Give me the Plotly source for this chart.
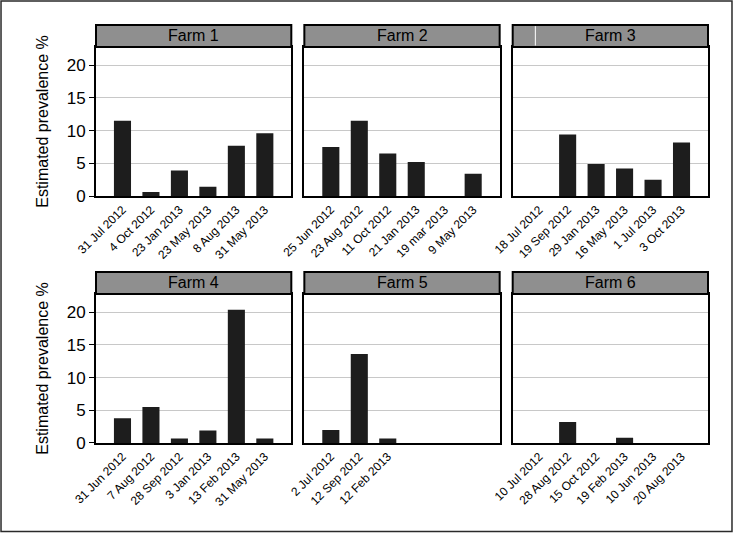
import plotly.graph_objs as go
from plotly.subplots import make_subplots

# sampling dates and estimated prevalence (%) for each farm
farm1_dates = ['31 Jul 2012', '4 Oct 2012', '23 Jan 2013', '23 May 2013', '8 Aug 2013', '31 May 2013']
farm1_vals = [11.5, 0.6, 3.9, 1.4, 7.7, 9.6]

farm2_dates = ['25 Jun 2012', '23 Aug 2012', '11 Oct 2012', '21 Jan 2013', '19 mar 2013', '9 May 2013']
farm2_vals = [7.5, 11.5, 6.5, 5.2, 0, 3.4]

farm3_dates = ['18 Jul 2012', '19 Sep 2012', '29 Jan 2013', '16 May 2013', '1 Jul 2013', '3 Oct 2013']
farm3_vals = [0, 9.4, 4.9, 4.2, 2.5, 8.2]

farm4_dates = ['31 Jun 2012', '7 Aug 2012', '28 Sep 2012', '3 Jan 2013', '13 Feb 2013', '31 May 2013']
farm4_vals = [3.8, 5.5, 0.7, 1.9, 20.4, 0.7]

farm5_dates = ['2 Jul 2012', '12 Sep 2012', '12 Feb 2013']
farm5_vals = [2.0, 13.6, 0.7]

farm6_dates = ['10 Jul 2012', '28 Aug 2012', '15 Oct 2012', '19 Feb 2013', '10 Jun 2013', '20 Aug 2013']
farm6_vals = [0, 3.2, 0, 0.8, 0, 0]

farm_names = ['Farm 1', 'Farm 2', 'Farm 3', 'Farm 4', 'Farm 5', 'Farm 6']
farms = [(farm1_dates, farm1_vals), (farm2_dates, farm2_vals), (farm3_dates, farm3_vals),
         (farm4_dates, farm4_vals), (farm5_dates, farm5_vals), (farm6_dates, farm6_vals)]

FONT = 'Liberation Sans, Arial, sans-serif'

fig = make_subplots(rows=2, cols=3, horizontal_spacing=0.0213, vertical_spacing=0.2474)

for i, (dates, vals) in enumerate(farms):
    r = i // 3 + 1
    c = i % 3 + 1
    pos = list(range(len(dates)))
    fig.add_trace(go.Bar(x=pos, y=vals, width=0.6,
                         marker=dict(color='#1d1d1d', line=dict(width=0)),
                         showlegend=False), row=r, col=c)
    fig.update_xaxes(tickvals=pos, ticktext=dates, tickangle=-45, range=[-0.93, 5.93],
                     showgrid=False, zeroline=False, showline=True, mirror=True,
                     linecolor='black', linewidth=2, ticks='', automargin=False,
                     tickfont=dict(size=12, color='black', family=FONT), row=r, col=c)
    fig.update_yaxes(range=[0, 22.8], tickvals=[0, 5, 10, 15, 20], showgrid=True,
                     gridcolor='#c8c8c8', gridwidth=1, zeroline=False, showline=True,
                     mirror=True, linecolor='black', linewidth=2, automargin=False,
                     ticks='outside' if c == 1 else '', ticklen=5, tickcolor='black',
                     showticklabels=(c == 1),
                     tickfont=dict(size=17, color='black', family=FONT), row=r, col=c)
    if c == 1:
        fig.update_yaxes(title=dict(text='Estimated prevalence %', standoff=14,
                                    font=dict(size=16, color='black', family=FONT)),
                         row=r, col=c)

    # grey strip with the farm name above each panel
    xr = 'x domain' if i == 0 else 'x%d domain' % (i + 1)
    yr = 'y domain' if i == 0 else 'y%d domain' % (i + 1)
    fig.add_shape(type='rect', xref=xr, yref=yr, x0=0, x1=1, y0=1, y1=1.148,
                  fillcolor='#8f8f8f', line=dict(color='black', width=2))
    fig.add_annotation(xref=xr, yref=yr, x=0.5, y=1.074, text=farm_names[i],
                       xanchor='center', yanchor='middle', showarrow=False,
                       font=dict(size=16, color='black', family=FONT))

# small white mark seen in the Farm 3 strip
fig.add_shape(type='line', xref='x3 domain', yref='y3 domain', x0=0.116, x1=0.116,
              y0=1.01, y1=1.14, line=dict(color='white', width=1))

# outer frame
fig.add_shape(type='rect', xref='paper', yref='paper', x0=-0.1552, x1=1.0392,
              y0=-0.2235, y1=1.1162, line=dict(color='#2a2a2a', width=1.5))

fig.update_layout(width=734, height=533, plot_bgcolor='white', paper_bgcolor='white',
                  margin=dict(l=96, r=26, t=47, b=90, autoexpand=False), bargap=0.4,
                  font=dict(family=FONT, color='black'))

# page body has a default margin; drop it so the figure sits at the window corner
fig.write_html("out.html", config={'displayModeBar': False},
               post_script="document.body.style.margin='0';")
